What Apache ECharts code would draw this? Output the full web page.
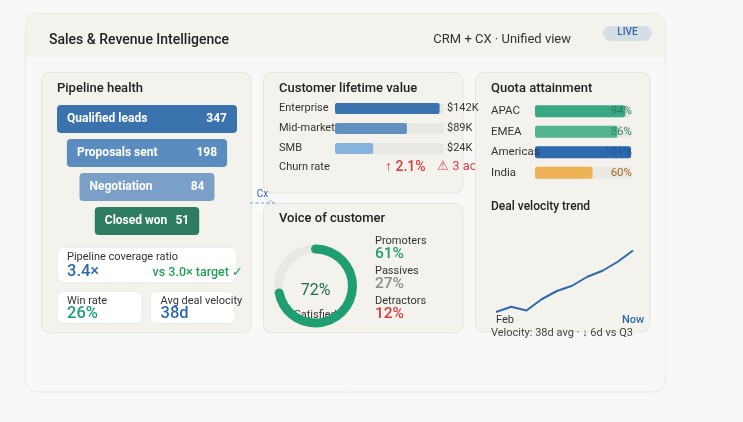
<!DOCTYPE html>
<html><head><meta charset="utf-8">
<script src="https://cdn.jsdelivr.net/npm/echarts@6/dist/echarts.min.js"></script>
<style>html,body{margin:0;padding:0;background:#f7f7f5;}#c{width:743px;height:422px;}</style>
</head><body><div id="c"></div>
<script>
// ---- data ----
const stageNames = ['Qualified leads', 'Proposals sent', 'Negotiation', 'Closed won'];
const stageCounts = [347, 198, 84, 51];
const stageBarPct = [100, 89, 75, 58];
const coverageRatio = '3.4×';
const coverageTarget = 'vs 3.0× target ✓';
const winRate = '26%';
const avgDealVelocity = '38d';
const clvSegments = ['Enterprise', 'Mid-market', 'SMB'];
const clvValuesK = [142, 89, 24];
const clvBarPct = [96, 66, 35];
const churnRate = '↑ 2.1%';
const churnNote = '⚠ 3 accounts at risk';
const quotaRegions = ['APAC', 'EMEA', 'Americas', 'India'];
const quotaPct = [94, 86, 101, 60];
const vocLabels = ['Promoters', 'Passives', 'Detractors'];
const vocPct = [61, 27, 12];
const satisfiedPct = 72;
const velocityPeriods = ['Feb', 'Feb W3', 'Mar', 'Mar W3', 'Apr', 'Apr W3', 'May', 'May W3', 'Jun', 'Now'];
const velocityIndex = [4, 11, 6, 21, 32, 39, 51, 59, 71, 86];
const velocityNote = 'Velocity: 38d avg · ↓ 6d vs Q3';

// ---- styles ----
const FONT = 'Roboto, "Liberation Sans", sans-serif';
const stageColors = ['#3a72ad', '#5b8cbf', '#7ba0c8', '#2e7d61'];
const clvColors = ['#3a72ad', '#6190c0', '#86b2de'];
const quotaColors = ['#3aa882', '#52b590', '#2d6aad', '#efb256'];
const quotaTextColors = ['#2a7d62', '#2f8a69', '#1f5796', '#a86a1e'];
const vocColors = ['#1e9c70', '#8b8b8b', '#dc3b3b'];
const PANEL = '#f3f2ec', PANEL_LINE = '#e5e4dd', TRACK = '#e9e8e2';

function T(text, x, y, size, color, o) {
  o = o || {};
  return {type: 'text', z: o.z == null ? 10 : o.z, style: {
    text: text, x: x, y: y, fill: color,
    font: (o.weight || 'normal') + ' ' + size + 'px ' + FONT,
    textAlign: o.align || 'left', textVerticalAlign: 'middle',
    align: o.align || 'left', verticalAlign: 'middle'}};
}
function R(x, y, w, h, r, fill, stroke, z) {
  return {type: 'rect', z: z == null ? 1 : z, shape: {x: x, y: y, width: w, height: h, r: r},
    style: {fill: fill, stroke: stroke || null, lineWidth: 1}};
}

const g = [];
// outer card + header
g.push(R(25.5, 13.5, 640, 378.5, 12, '#f8f8f6', '#e9e8e3', 0));
g.push(R(26, 14, 639, 43, [12, 12, 0, 0], '#f3f2ec', null, 0.2));
g.push(T('Sales & Revenue Intelligence', 49, 40, 14, '#222', {weight: 500}));
g.push(T('CRM + CX · Unified view', 571, 40, 13, '#333', {align: 'right'}));
g.push(R(603, 26, 49, 15, 7.5, '#d6dee5', null, 1));
g.push(T('LIVE', 627.5, 32.5, 10, '#2e6aa6', {align: 'center', weight: 500}));

// panels
g.push(R(41.5, 72.5, 209.5, 260.5, 8, PANEL, PANEL_LINE, 1));
g.push(R(263.5, 72.5, 199.5, 120.5, 8, PANEL, PANEL_LINE, 1));
g.push(R(263.5, 203.5, 199.5, 129.5, 8, PANEL, PANEL_LINE, 1));
g.push(R(475.5, 72.5, 174.5, 259.5, 8, PANEL, PANEL_LINE, 1.8));

// panel titles
g.push(T('Pipeline health', 57, 88.5, 13, '#222', {weight: 500}));
g.push(T('Customer lifetime value', 279, 89, 13, '#222', {weight: 500}));
g.push(T('Quota attainment', 491, 88.5, 13, '#222', {weight: 500}));
g.push(T('Voice of customer', 279, 219, 13, '#222', {weight: 500}));
g.push(T('Deal velocity trend', 491, 207, 12, '#222', {weight: 500}));

// pipeline KPI cards
g.push(R(57.5, 247.5, 179.5, 35, 6, '#ffffff', '#ecebe6', 3));
g.push(R(57.5, 291.5, 84.5, 32, 6, '#ffffff', '#ecebe6', 3));
g.push(R(150.5, 291.5, 84.5, 32, 6, '#ffffff', '#ecebe6', 3));
g.push(T('Pipeline coverage ratio', 67, 257, 11, '#333'));
g.push(T(coverageRatio, 67, 271.5, 16.5, '#2d6aad', {weight: 500}));
g.push(T(coverageTarget, 243, 273, 12.5, '#22a05a', {align: 'right', weight: 500}));
g.push(T('Win rate', 67, 301.5, 11, '#333'));
g.push(T(winRate, 67, 314, 16.5, '#1f9e72', {weight: 500}));
g.push(T('Avg deal velocity', 160.5, 301.5, 11, '#333'));
g.push(T(avgDealVelocity, 160.5, 314, 16.5, '#2d6aad', {weight: 500}));

// churn row (overflow hidden under quota panel)
g.push(T('Churn rate', 279, 167.5, 11, '#333'));
g.push(T(churnRate, 385, 167, 14, '#d93a3a', {z: 1.5, weight: 500}));
g.push(T(churnNote, 437, 167, 13, '#d64545', {z: 1.5}));

// voice of customer legend
vocLabels.forEach(function (l, i) {
  g.push(T(l, 375, 241 + i * 30.3, 11, '#333'));
  g.push(T(vocPct[i] + '%', 375, 254.5 + i * 30, 15.5, vocColors[i], {weight: 500}));
});

// connector
g.push({type: 'line', z: 10, shape: {x1: 250, y1: 203, x2: 275, y2: 203},
  style: {stroke: '#9dbcdc', lineWidth: 1.5, lineDash: [3, 2.5]}});
g.push({type: 'polyline', z: 10, shape: {points: [[266, 203.5], [270.5, 200.5], [275, 203.5]]},
  style: {stroke: '#9dbcdc', lineWidth: 1, fill: null}});
g.push(T('Cx', 262.5, 194.5, 10, '#2e6aa6', {align: 'center'}));

// velocity footer
g.push(T(velocityNote, 491, 333.5, 11, '#444', {z: 12}));

const hiddenAxisBits = {axisLine: {show: false}, axisTick: {show: false}, splitLine: {show: false}};

const option = {
  animation: false,
  textStyle: {fontFamily: FONT},
  graphic: {elements: g},
  grid: [
    {left: 57, top: 102, width: 180, height: 136},
    {left: 335, top: 98.5, width: 109, height: 60},
    {left: 535, top: 101, width: 96, height: 82},
    {left: 496, top: 240, width: 137, height: 75}
  ],
  xAxis: [
    {gridIndex: 0, type: 'value', min: 0, max: 100, show: false},
    {gridIndex: 1, type: 'value', min: 0, max: 100, show: false},
    {gridIndex: 2, type: 'value', min: 0, max: 100, show: false},
    Object.assign({gridIndex: 3, type: 'category', data: velocityPeriods, boundaryGap: false, z: 5,
      axisLabel: {margin: 0, fontSize: 11, alignMinLabel: 'left',
        interval: function (i) { return i === 0 || i === velocityPeriods.length - 1; },
        formatter: function (v, i) { return i === 0 ? '{a|' + v + '}' : '{b|' + v + '}'; },
        rich: {a: {color: '#333', fontSize: 11, fontFamily: FONT}, b: {color: '#2d6aad', fontSize: 11, fontWeight: 500, fontFamily: FONT}}}},
      hiddenAxisBits)
  ],
  yAxis: [
    {gridIndex: 0, type: 'category', data: stageNames, inverse: true, show: false},
    Object.assign({gridIndex: 1, type: 'category', data: clvSegments, inverse: true, z: 5,
      axisLabel: {align: 'left', margin: 56, fontSize: 11, color: '#333'}}, hiddenAxisBits),
    Object.assign({gridIndex: 1, type: 'category', data: clvSegments, inverse: true, position: 'right', z: 5,
      axisLabel: {margin: 3, fontSize: 11, color: '#333',
        formatter: function (v, i) { return '$' + clvValuesK[i] + 'K'; }}}, hiddenAxisBits),
    Object.assign({gridIndex: 2, type: 'category', data: quotaRegions, inverse: true, z: 5,
      axisLabel: {align: 'left', margin: 44, fontSize: 11.5, color: '#333'}}, hiddenAxisBits),
    Object.assign({gridIndex: 2, type: 'category', data: quotaRegions, inverse: true, position: 'right', z: 5,
      axisLabel: {align: 'right', margin: 1, fontSize: 11.5,
        color: function (v, i) { return quotaTextColors[i]; },
        formatter: function (v, i) { return quotaPct[i] + '%'; }}}, hiddenAxisBits),
    {gridIndex: 3, type: 'value', min: 0, max: 100, show: false}
  ],
  series: [
    {
      type: 'custom', xAxisIndex: 0, yAxisIndex: 0, z: 3,
      data: stageCounts.map(function (c, i) { return [stageBarPct[i], i, c]; }),
      encode: {x: 0, y: 1},
      renderItem: function (params, api) {
        var pct = api.value(0), idx = api.value(1), cnt = api.value(2);
        var l = api.coord([0, idx]), r = api.coord([100, idx]);
        var w = api.size([pct, 1])[0], h = 28;
        var cx = (l[0] + r[0]) / 2, cy = l[1], x0 = cx - w / 2;
        return {type: 'group', children: [
          {type: 'rect', shape: {x: x0, y: cy - h / 2, width: w, height: h, r: 4}, style: {fill: stageColors[idx]}},
          {type: 'text', style: {text: stageNames[idx], x: x0 + 10, y: cy, fill: '#fff', align: 'left', verticalAlign: 'middle', font: 'bold 12px ' + FONT}},
          {type: 'text', style: {text: String(cnt), x: x0 + w - 10, y: cy, fill: '#fff', align: 'right', verticalAlign: 'middle', font: 'bold 12px ' + FONT}}
        ]};
      }
    },
    {
      type: 'bar', xAxisIndex: 1, yAxisIndex: 1, barWidth: 11,
      showBackground: true, backgroundStyle: {color: TRACK, borderRadius: 2},
      itemStyle: {borderRadius: 2},
      data: clvBarPct.map(function (v, i) { return {value: v, itemStyle: {color: clvColors[i]}}; })
    },
    {
      type: 'bar', xAxisIndex: 2, yAxisIndex: 3, barWidth: 12, clip: true,
      showBackground: true, backgroundStyle: {color: TRACK, borderRadius: 2},
      itemStyle: {borderRadius: 2},
      data: quotaPct.map(function (v, i) { return {value: v, itemStyle: {color: quotaColors[i]}}; })
    },
    {
      type: 'line', xAxisIndex: 3, yAxisIndex: 5, data: velocityIndex, showSymbol: false, symbol: 'none',
      lineStyle: {color: '#2d6aad', width: 2}
    },
    {
      type: 'gauge', center: [315.5, 286], radius: 41.5, startAngle: 90, endAngle: -270,
      min: 0, max: 100, z: 3,
      pointer: {show: false}, axisTick: {show: false}, splitLine: {show: false}, axisLabel: {show: false},
      axisLine: {lineStyle: {width: 9, color: [[1, '#e9e8e3']]}},
      progress: {show: true, width: 9, roundCap: true, itemStyle: {color: '#1f9e72'}},
      title: {offsetCenter: [0, 29], fontSize: 11, color: '#333', fontFamily: FONT},
      detail: {offsetCenter: [0, 4.5], formatter: '{value}%', fontSize: 16, color: '#1f6b52', fontWeight: 'normal', fontFamily: FONT},
      data: [{value: satisfiedPct, name: 'Satisfied'}]
    }
  ]
};
const chart = echarts.init(document.getElementById('c'));
chart.setOption(option);
</script></body></html>
